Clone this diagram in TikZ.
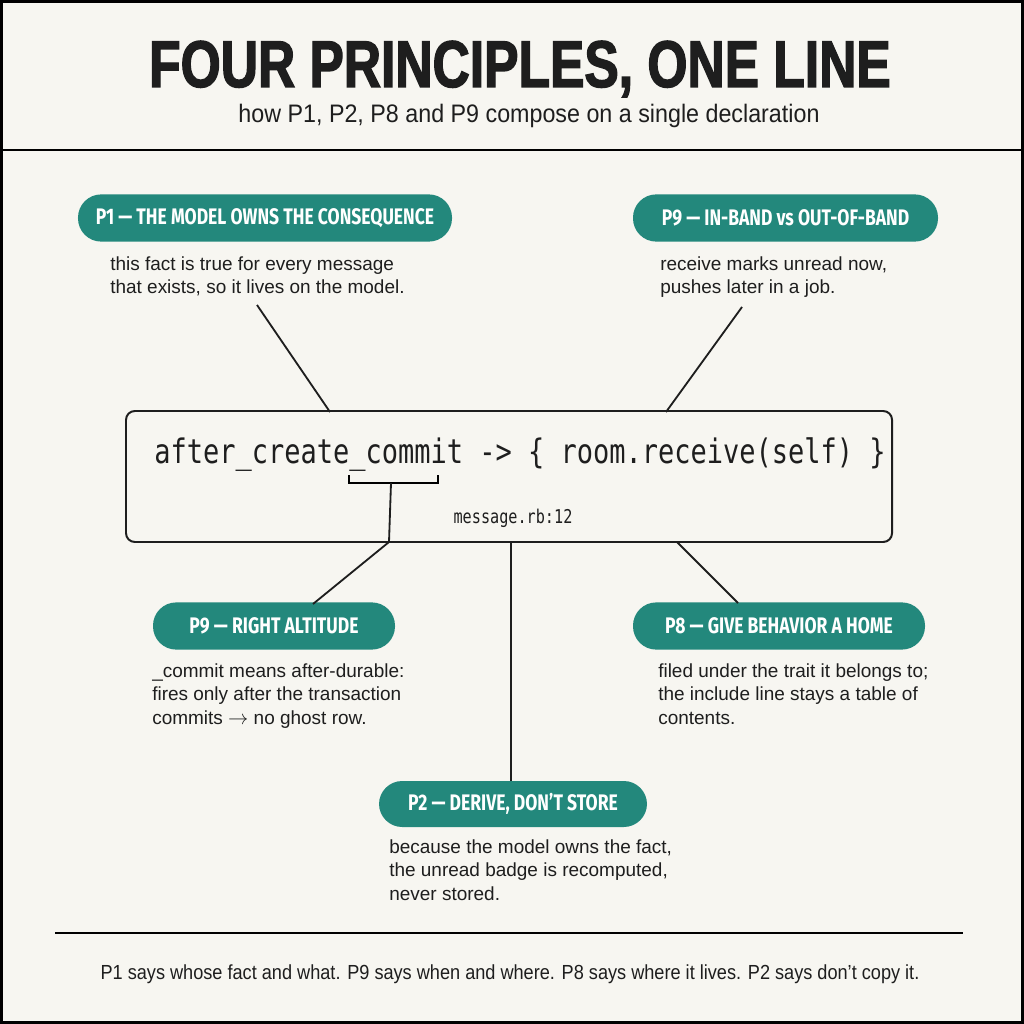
\documentclass[tikz,border=0pt]{standalone}
\usepackage{fontspec}
\setmainfont{Liberation Sans}
\newfontfamily\titlefont[FakeStretch=0.78,FakeBold=2]{Liberation Sans}
\newfontfamily\condfont[FakeStretch=0.92]{Liberation Sans}
\newfontfamily\footfont[FakeStretch=0.89]{Liberation Sans}
\newfontfamily\pillfont[FakeStretch=0.78]{Fira Sans}
\newfontfamily\codefont[FakeStretch=0.8]{DejaVu Sans Mono}
\usetikzlibrary{positioning,calc}
\definecolor{paper}{HTML}{F7F6F1}
\definecolor{pillteal}{HTML}{23887C}
\definecolor{ink}{HTML}{1E1E1E}

\begin{document}
\begin{tikzpicture}[
    x=0.25mm, y=-0.25mm,
    every node/.style={text=ink},
    pill/.style={fill=pillteal, rounded corners=5.8mm, minimum height=11.8mm,
                 inner sep=0pt, text=white,
                 font=\pillfont\bfseries\fontsize{16}{18}\selectfont},
    note/.style={anchor=north west, align=left, inner sep=0pt,
                 font=\fontsize{13.5}{17}\selectfont},
    link/.style={line width=1.3pt, draw=ink},
]
  % Page and frame
  \useasboundingbox (0,0) rectangle (1024,1024);
  \fill[paper] (0,0) rectangle (1024,1024);
  \draw[line width=2.2pt] (1.5,1.5) rectangle (1022.5,1022.5);
  \draw[line width=2pt] (0,150) -- (1024,150);
  % Header
  \node[anchor=base, font=\titlefont\bfseries\fontsize{47}{47}\selectfont] (title) at (520,87)
    {FOUR PRINCIPLES, ONE LINE};
  \node[anchor=base, font=\condfont\fontsize{18}{20}\selectfont] (subtitle) at (529,123)
    {how P1, P2, P8 and P9 compose on a single declaration};
  % Code line
  \node[draw=ink, line width=1.4pt, rounded corners=2.2mm, minimum width=191.5mm,
        minimum height=32.75mm, inner sep=0pt] (box) at (509,476.5) {};
  \node[anchor=west, inner sep=0pt, font=\codefont\fontsize{24}{24}\selectfont] (code) at (154,455)
    {after\_create\_commit -> \{ room.receive(self) \}};
  \node[inner sep=0pt, font=\codefont\fontsize{13.5}{14}\selectfont] (file) at (513,518)
    {message.rb:12};
  \coordinate (brk) at (391,483);
  \draw[line width=1.3pt] (349,475) -- (349,483) -- (438,483) -- (438,475);
  % Principles, top
  \node[pill, minimum width=93.5mm] (p1) at (265,218) {P1 — THE MODEL OWNS THE CONSEQUENCE};
  \node[note] (n1) at (110,256) {this fact is true for every message\\that exists, so it lives on the model.};
  \node[pill, minimum width=76.25mm] (p9a) at (785.5,218) {P9 — IN-BAND vs OUT-OF-BAND};
  \node[note] (n9a) at (660,256) {receive marks unread now,\\pushes later in a job.};
  % Principles, bottom
  \node[pill, minimum width=60.5mm] (p9b) at (274,626) {P9 — RIGHT ALTITUDE};
  \node[note] (n9b) at (152,663) {\_commit means after-durable:\\fires only after the transaction\\commits $\rightarrow$ no ghost row.};
  \node[pill, minimum width=73mm] (p8) at (779,626) {P8 — GIVE BEHAVIOR A HOME};
  \node[note] (n8) at (658,663) {filed under the trait it belongs to;\\the include line stays a table of\\contents.};
  \node[pill, minimum width=67mm, minimum height=11.5mm] (p2) at (513,804) {P2 — DERIVE, DON’T STORE};
  \node[note] (n2) at (389,839) {because the model owns the fact,\\the unread badge is recomputed,\\never stored.};
  % Connector ends
  \coordinate (n1end) at (257,305);
  \coordinate (box1) at (330,412);
  \coordinate (n9aend) at (742,307);
  \coordinate (box9a) at (666,412);
  \coordinate (box9b) at (389,542);
  \coordinate (p9bend) at (313,604);
  \coordinate (box2) at (511,542);
  \coordinate (box8) at (677,542);
  \coordinate (p8end) at (738,603);
  % Connectors
  \draw[link] (n1end) -- (box1);
  \draw[link] (n9aend) -- (box9a);
  \draw[link] (brk) -- (box9b) -- (p9bend);
  \draw[link] (box2) -- (p2.north -| box2);
  \draw[link] (box8) -- (p8end);
  % Footer
  \draw[line width=1.8pt] (55,933) -- (963,933);
  \node[anchor=base, font=\footfont\fontsize{14.5}{16}\selectfont] (footer) at (510,979)
    {P1 says whose fact and what. P9 says when and where. P8 says where it lives. P2 says don’t copy it.};
\end{tikzpicture}
\end{document}
